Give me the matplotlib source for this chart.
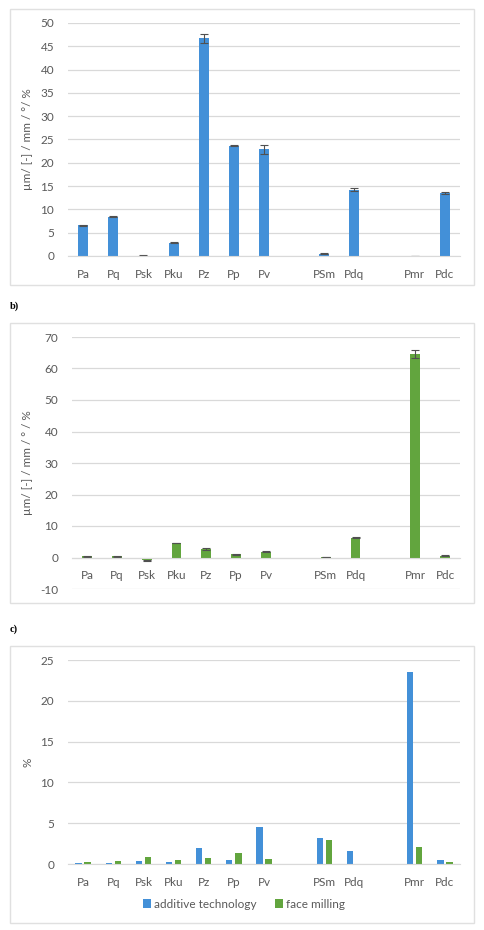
import numpy as np
import matplotlib
matplotlib.use("Agg")
import matplotlib.pyplot as plt
from matplotlib.patches import Rectangle

plt.rcParams['font.family'] = ['Lato', 'DejaVu Sans']
plt.rcParams['axes.unicode_minus'] = False

# Kategorie (puste pozycje = odstępy w osi)
kategorie = ['Pa', 'Pq', 'Psk', 'Pku', 'Pz', 'Pp', 'Pv', '', 'PSm', 'Pdq', '', 'Pmr', 'Pdc']
nan = np.nan

# a) technologia addytywna
a_wart = [6.6, 8.4, 0.1, 2.8, 46.7, 23.7, 22.9, nan, 0.5, 14.2, nan, 0.05, 13.5]
a_blad = [0.1, 0.1, 0.05, 0.1, 0.9, 0.15, 1.0, nan, 0.1, 0.3, nan, 0.05, 0.15]

# b) frezowanie czołowe
b_wart = [0.4, 0.4, -0.9, 4.6, 2.7, 1.0, 1.9, nan, 0.2, 6.3, nan, 64.5, 0.6]
b_blad = [0.1, 0.1, 0.2, 0.1, 0.2, 0.1, 0.1, nan, 0.05, 0.1, nan, 1.3, 0.1]

# c) współczynnik zmienności [%]
c_addytywna = [0.15, 0.15, 0.4, 0.2, 2.0, 0.5, 4.5, nan, 3.2, 1.6, nan, 23.5, 0.5]
c_frezowanie = [0.25, 0.35, 0.9, 0.5, 0.7, 1.4, 0.6, nan, 3.0, 0.05, nan, 2.1, 0.2]

NIEBIESKI = '#4390d8'
ZIELONY = '#62a53e'
SZARY_TXT = '#595959'
SIATKA = '#d9d9d9'

W, H = 485, 930
fig = plt.figure(figsize=(W / 100, H / 100), dpi=100)


def osie(x0, x1, y_top, y_bot):
    """Tworzy osie na podstawie współrzędnych w pikselach."""
    return fig.add_axes([x0 / W, 1 - y_bot / H, (x1 - x0) / W, (y_bot - y_top) / H])


def ramka(x0, x1, y_top, y_bot):
    fig.add_artist(Rectangle((x0 / W, 1 - y_bot / H), (x1 - x0) / W, (y_bot - y_top) / H,
                             transform=fig.transFigure, fill=False, edgecolor='#e0e0e0', lw=1))


def styl(ax, ylim, kroki, etykieta):
    x = np.arange(len(kategorie))
    ax.set_xlim(-0.5, len(kategorie) - 0.5)
    ax.set_ylim(*ylim)
    ax.set_yticks(kroki)
    ax.set_xticks(x)
    ax.set_xticklabels(kategorie)
    ax.grid(axis='y', color=SIATKA, lw=0.9)
    ax.set_axisbelow(True)
    for s in ['top', 'right', 'left']:
        ax.spines[s].set_visible(False)
    ax.spines['bottom'].set_position(('data', 0))
    ax.spines['bottom'].set_color(SIATKA)
    ax.tick_params(axis='both', length=0, colors=SIATKA, labelcolor=SIATKA)
    ax.tick_params(axis='y', pad=10, labelsize=8.5, labelcolor=SZARY_TXT)
    ax.tick_params(axis='x', pad=9, labelsize=8.5, labelcolor=SZARY_TXT)
    ax.set_ylabel(etykieta, color=SZARY_TXT, fontsize=8.5, labelpad=5)
    ax.set_facecolor('none')


x = np.arange(len(kategorie))
err_kw = dict(ecolor='#505050', elinewidth=0.8, capsize=3, capthick=0.8)

# a)
ramka(10, 474, 9, 285)
ax1 = osie(68, 460, 23, 256)
ax1.bar(x, a_wart, width=0.33, color=NIEBIESKI, yerr=a_blad, error_kw=err_kw)
styl(ax1, (0, 50), np.arange(0, 51, 5), 'µm/ [-] / mm / °/ %')

# b)
fig.text(10 / W, 1 - 306 / H, 'b)', fontsize=7.5, fontweight='bold',
         family=['Liberation Serif', 'DejaVu Serif'], va='center', ha='left')
ramka(10, 474, 323, 603)
ax2 = osie(72, 460, 337, 589)
ax2.bar(x, b_wart, width=0.33, color=ZIELONY, yerr=b_blad, error_kw=err_kw)
styl(ax2, (-10, 70), np.arange(-10, 71, 10), 'µm/ [-] / mm / ° / %')

# c)
fig.text(10 / W, 1 - 629 / H, 'c)', fontsize=7.5, fontweight='bold',
         family=['Liberation Serif', 'DejaVu Serif'], va='center', ha='left')
ramka(10, 474, 646, 923)
ax3 = osie(68, 460, 660, 864)
ax3.bar(x - 0.15, c_addytywna, width=0.21, color=NIEBIESKI, label='additive technology')
ax3.bar(x + 0.15, c_frezowanie, width=0.21, color=ZIELONY, label='face milling')
styl(ax3, (0, 25), np.arange(0, 26, 5), '%')
leg = ax3.legend(loc='center', bbox_to_anchor=(244 / W, 1 - 904 / H), bbox_transform=fig.transFigure,
                 ncol=2, frameon=False, fontsize=8.5, handlelength=0.7, handleheight=0.7,
                 handletextpad=0.3, columnspacing=1.5)
for t in leg.get_texts():
    t.set_color(SZARY_TXT)

fig.savefig('out.png', dpi=100)
